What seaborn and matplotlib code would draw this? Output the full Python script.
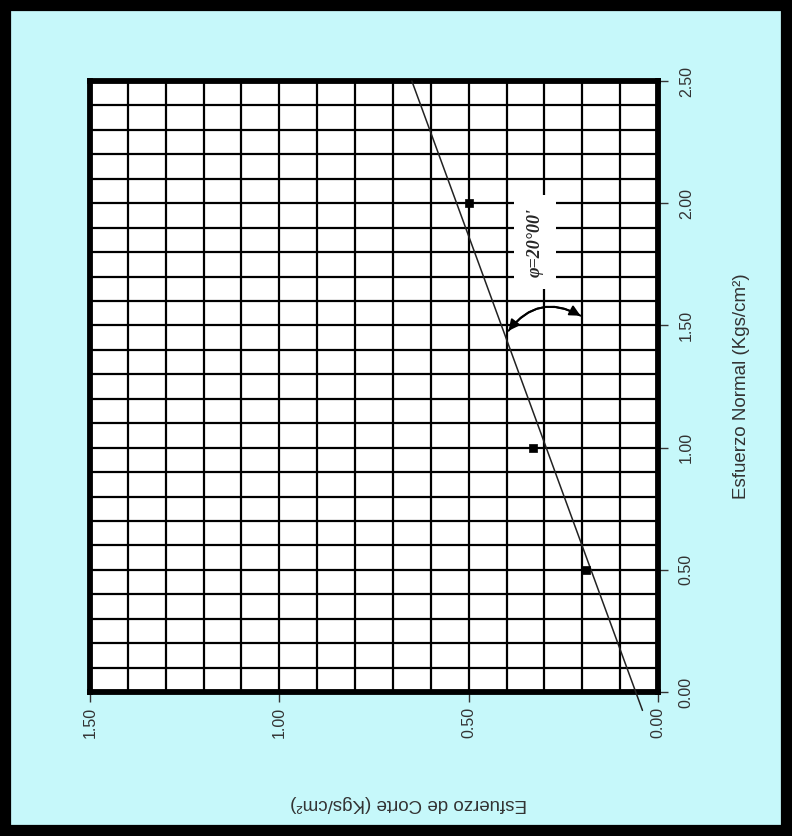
import matplotlib
matplotlib.use("Agg")
import matplotlib.pyplot as plt
from matplotlib.ticker import MultipleLocator, FormatStrFormatter
from matplotlib.patches import Rectangle
import seaborn as sns
import pandas as pd

# Direct shear test results
normal_stress = [0.5, 1.0, 2.0]          # Esfuerzo normal (Kgs/cm2)
shear_stress = [0.19, 0.33, 0.50]        # Esfuerzo de corte (Kgs/cm2)

# Failure envelope (end points)
envelope_normal = [-0.075, 2.5]
envelope_shear = [0.041, 0.650]

phi_label = "φ=20°00'"
x_ticks = [0.0, 0.5, 1.0, 1.5, 2.0, 2.5]
y_ticks = [0.0, 0.5, 1.0, 1.5]

sns.set_theme(style="white")
plt.rcParams["font.family"] = ["Liberation Sans", "DejaVu Sans"]

BG = "#c6f8fa"
fig = plt.figure(figsize=(7.92, 8.36), dpi=100, facecolor=BG)
# the sheet is laid out turned a quarter turn: normal stress runs upward
ax = fig.add_axes([0.1136, 0.1722, 0.7172, 0.7309])
ax.set_facecolor("white")

pts = pd.DataFrame({"normal": normal_stress, "shear": shear_stress})
env = pd.DataFrame({"normal": envelope_normal, "shear": envelope_shear})

sns.lineplot(data=env, x="shear", y="normal", sort=False, color="#222222",
             linewidth=1.1, ax=ax, clip_on=False, zorder=4)
sns.scatterplot(data=pts, x="shear", y="normal", marker="s", s=38,
                color="black", edgecolor="black", ax=ax, zorder=5)

ax.set_xlim(1.5, 0.0)
ax.set_ylim(0.0, 2.5)

ax.xaxis.set_minor_locator(MultipleLocator(0.1))
ax.yaxis.set_minor_locator(MultipleLocator(0.1))
ax.set_xticks(y_ticks)
ax.set_yticks(x_ticks)
ax.xaxis.set_major_formatter(FormatStrFormatter("%.2f"))
ax.yaxis.set_major_formatter(FormatStrFormatter("%.2f"))

ax.grid(which="both", color="black", linewidth=1.6)
ax.set_axisbelow(True)

ax.yaxis.tick_right()
ax.yaxis.set_label_position("right")
ax.tick_params(axis="both", which="major", direction="out", length=7,
               width=1.0, color="#333333", labelsize=11.5,
               labelcolor="#333333")
ax.tick_params(axis="both", which="minor", length=0)
ax.tick_params(axis="x", bottom=True, labelrotation=90, pad=4)
ax.tick_params(axis="y", right=True, left=False, labelrotation=90, pad=8)
for lab in ax.get_yticklabels():
    lab.set_va("center")

for sp in ax.spines.values():
    sp.set_visible(True)
    sp.set_color("black")
    sp.set_linewidth(4.2)

ax.set_xlabel("Esfuerzo de Corte (Kgs/cm²)", rotation=180, fontsize=13.5,
              color="#333333", va="center")
ax.xaxis.set_label_coords(0.56, -0.182)
ax.set_ylabel("Esfuerzo Normal (Kgs/cm²)", rotation=90, fontsize=13.5,
              color="#333333", labelpad=34)
ax.yaxis.label.set_va("center")

# friction angle annotation
ax.text(0.325, 1.84, phi_label, rotation=90, ha="center", va="center",
        fontsize=13, fontweight="bold", style="italic",
        family=["Liberation Serif", "DejaVu Serif"],
        bbox=dict(boxstyle="square,pad=0.7", facecolor="white",
                  edgecolor="none"), zorder=6)
ax.annotate("", xy=(0.399, 1.469), xytext=(0.198, 1.534),
            arrowprops=dict(arrowstyle="-|>", connectionstyle="arc3,rad=0.45",
                            color="black", lw=1.4, mutation_scale=16),
            zorder=6)
ax.annotate("", xy=(0.198, 1.534), xytext=(0.399, 1.469),
            arrowprops=dict(arrowstyle="-|>", connectionstyle="arc3,rad=-0.45",
                            color="black", lw=1.4, mutation_scale=16),
            zorder=6)

# outer frame of the sheet
fig.patches.append(Rectangle((0, 0), 1, 1, transform=fig.transFigure,
                             fill=False, edgecolor="black", linewidth=16))

fig.savefig("out.png", dpi=100, facecolor=BG)
